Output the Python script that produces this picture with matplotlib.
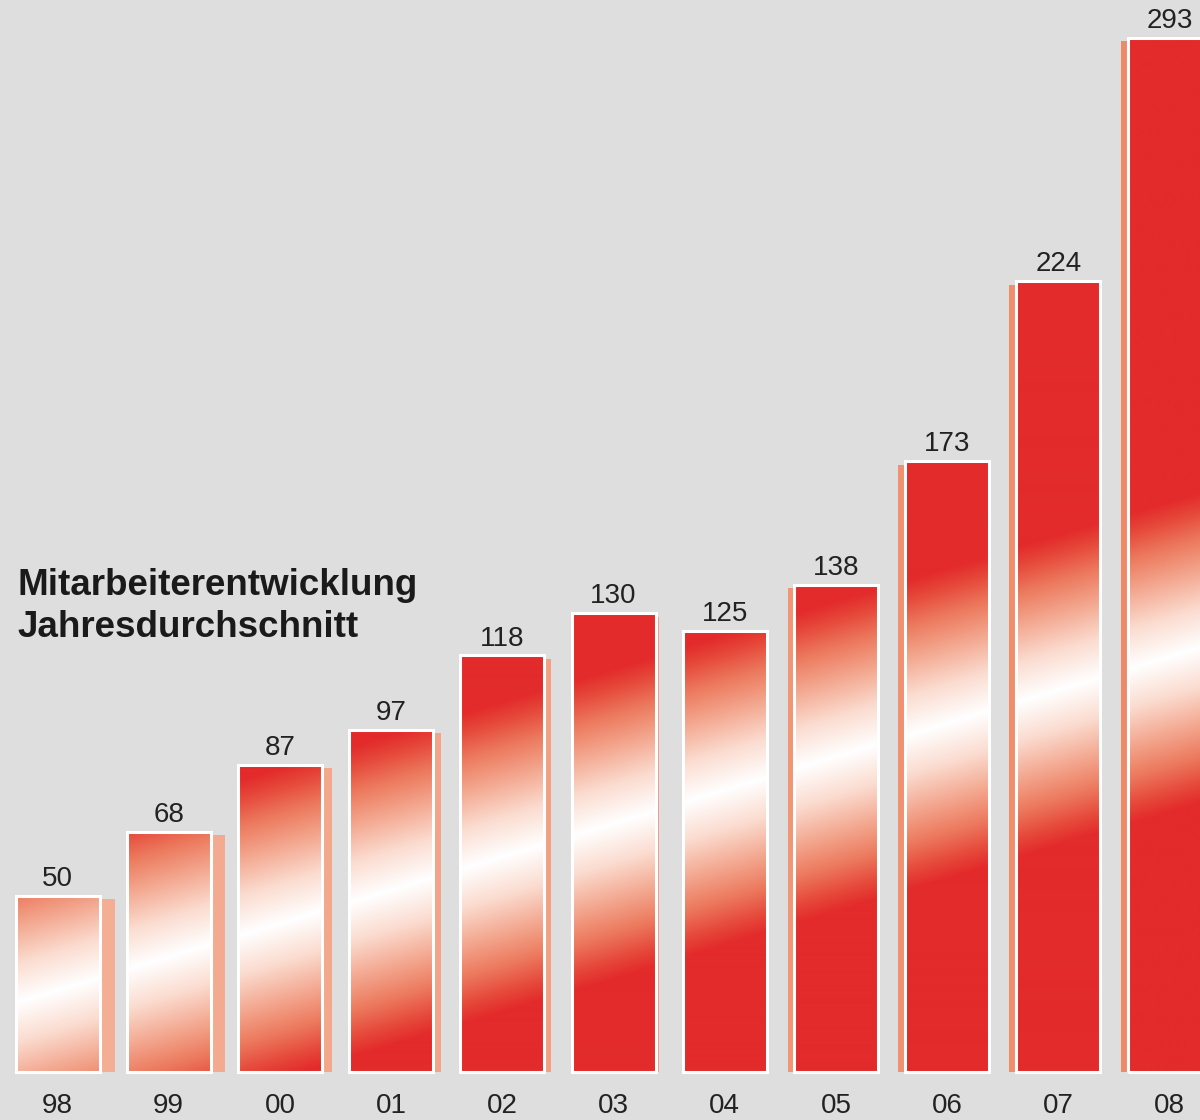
import numpy as np
import matplotlib
matplotlib.use("Agg")
import matplotlib.pyplot as plt
from matplotlib.colors import LinearSegmentedColormap, to_rgb

# Mitarbeiter im Jahresdurchschnitt
jahre = ["98", "99", "00", "01", "02", "03", "04", "05", "06", "07", "08"]
mitarbeiter = [50, 68, 87, 97, 118, 130, 125, 138, 173, 224, 293]

titel = "Mitarbeiterentwicklung\nJahresdurchschnitt"

W, H = 1200, 1120
bg = "#dedede"
schrift = ["Liberation Sans Narrow", "Liberation Sans", "DejaVu Sans"]

fig = plt.figure(figsize=(W / 100, H / 100), dpi=100, facecolor=bg)
ax = fig.add_axes([0, 0, 1, 1])
ax.set_facecolor(bg)
ax.axis("off")

step = 111.2   # px pro Balken
unit = 3.53    # px pro Mitarbeiter
x0 = 57.5      # px Mitte erster Balken
y0 = 48        # px Grundlinie von unten

# diagonales weisses Band ueber die ganze Grafik
cmap = LinearSegmentedColormap.from_list("rotweiss", [
    (0.0, "#ffffff"), (0.25, "#fbdcd0"), (0.5, "#f3a68e"),
    (0.7, "#ec7a5e"), (0.88, "#e6483a"), (1.0, "#e32b2b")])
yy, xx = np.mgrid[0:H, 0:W]
band = 990 - 0.30 * (xx - 57)
d = np.clip(np.abs(yy - band) / 155, 0, 1)
rgb = cmap(d)[..., :3]

x = np.arange(len(jahre))
breite = 84 / step

# Seitenflaechen (Perspektive)
seite_px = [15, 14, 10, 8, 7, 3, 0, -6, -7, -7, -7]
c_a, c_b = np.array(to_rgb("#f4ae94")), np.array(to_rgb("#ef8a68"))
for i, v in enumerate(mitarbeiter):
    f = i / (len(mitarbeiter) - 1)
    ax.bar(i + seite_px[i] / step, v - 1, width=breite,
           color=c_a * (1 - f) + c_b * f, zorder=1)

bars = ax.bar(x, mitarbeiter, width=breite, facecolor="none",
              edgecolor="white", linewidth=2.2, zorder=3)
for b in bars:
    im = ax.imshow(rgb, extent=[0, 1, 0, 1], transform=ax.transAxes,
                   origin="upper", aspect="auto", zorder=2,
                   interpolation="bilinear")
    im.set_clip_path(b)

for i, v in enumerate(mitarbeiter):
    ax.text(i, v + 4.8, str(v), ha="center", va="center", fontsize=20,
            family=schrift, color="#222222")
    ax.text(i, -9.6, jahre[i], ha="center", va="center", fontsize=20,
            family=schrift, color="#222222")

fig.text(17 / W, 1 - 568 / H, titel, ha="left", va="top", fontsize=26.5,
         fontweight="bold", family=schrift, linespacing=1.25, color="#1a1a1a")

ax.set_xlim(-x0 / step, (W - x0) / step)
ax.set_ylim(-y0 / unit, (H - y0) / unit)

fig.savefig("out.png", dpi=100, facecolor=bg)
